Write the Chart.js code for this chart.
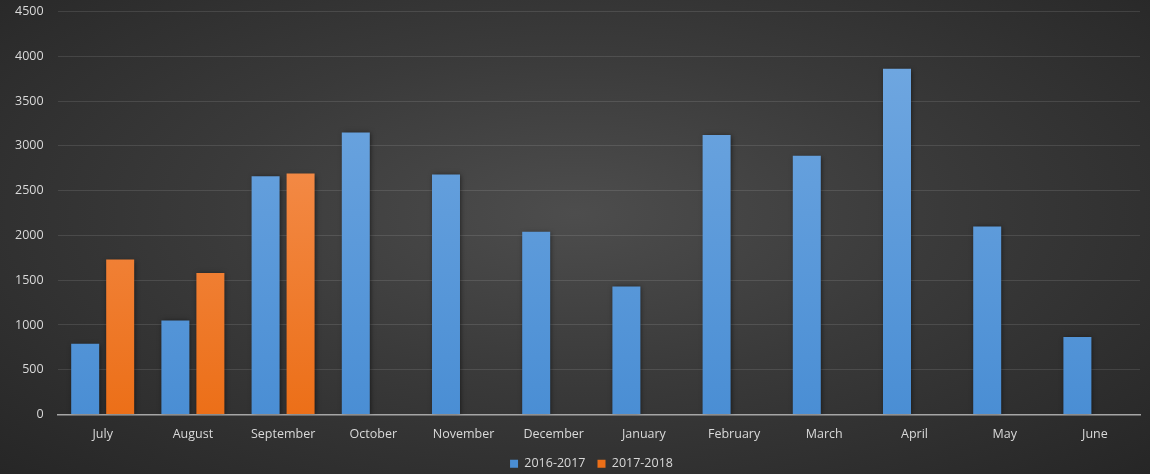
<!DOCTYPE html>
<html>
<head>
<meta charset="utf-8">
<script src="https://cdn.jsdelivr.net/npm/chart.js@4"></script>
<style>
  html, body { margin: 0; padding: 0; }
  body {
    width: 1150px; height: 474px; overflow: hidden;
    background: radial-gradient(ellipse at 50% 45%, #4d4d4d 0%, #3a3a3a 45%, #262626 100%);
  }
  #wrap { width: 1150px; height: 484px; margin-top: -10px; }
</style>
</head>
<body>
<div id="wrap"><canvas id="chart"></canvas></div>
<script>
const months = ['July', 'August', 'September', 'October', 'November', 'December',
  'January', 'February', 'March', 'April', 'May', 'June'];
const season1617 = [790, 1050, 2660, 3150, 2680, 2040, 1430, 3120, 2890, 3860, 2100, 865];
const season1718 = [1730, 1580, 2690, null, null, null, null, null, null, null, null, null];
const yTicks = [0, 500, 1000, 1500, 2000, 2500, 3000, 3500, 4000, 4500];

function barGradient(top, bottom) {
  return (ctx) => {
    const area = ctx.chart.chartArea;
    if (!area) return bottom;
    const g = ctx.chart.ctx.createLinearGradient(0, area.top, 0, area.bottom);
    g.addColorStop(0, top);
    g.addColorStop(1, bottom);
    return g;
  };
}

const shadowPlugin = {
  id: 'barShadow',
  beforeDatasetsDraw(chart) {
    const c = chart.ctx;
    c.save();
    c.shadowColor = 'rgba(0,0,0,0.55)';
    c.shadowBlur = 5;
    c.shadowOffsetX = 1;
    c.shadowOffsetY = 1;
  },
  afterDatasetsDraw(chart) {
    chart.ctx.restore();
  },
};

// legend sits a bit right of page centre in the original
const legendShift = {
  id: 'legendShift',
  afterLayout(chart) {
    if (!chart.legend) return;
    chart.legend.left += 21;
    chart.legend.right += 21;
  },
};

new Chart(document.getElementById('chart').getContext('2d'), {
  type: 'bar',
  data: {
    labels: months,
    datasets: [
      {
        label: '2016-2017',
        data: season1617,
        backgroundColor: barGradient('#74aae2', '#4a8ed4'),
        barPercentage: 0.8,
        categoryPercentage: 0.776,
      },
      {
        label: '2017-2018',
        data: season1718,
        backgroundColor: barGradient('#f79a62', '#ec6f18'),
        barPercentage: 0.8,
        categoryPercentage: 0.776,
      },
    ],
  },
  options: {
    responsive: true,
    maintainAspectRatio: false,
    animation: false,
    layout: { padding: { left: 1, right: 10, top: 0, bottom: -6 } },
    scales: {
      x: {
        grid: { display: false },
        border: { color: '#a6a6a6', width: 1.5 },
        ticks: { color: '#d9d9d9', font: { family: 'Open Sans', size: 12.5 }, padding: 4 },
      },
      y: {
        min: 0,
        max: 4500,
        afterBuildTicks: (axis) => { axis.ticks = yTicks.map((v) => ({ value: v })); },
        grid: { color: 'rgba(255,255,255,0.11)', drawTicks: false },
        border: { display: false },
        ticks: {
          color: '#d9d9d9',
          font: { family: 'Open Sans', size: 12.5 },
          padding: 14,
          callback: (val) => String(val),
        },
      },
    },
    plugins: {
      legend: {
        position: 'bottom',
        labels: {
          color: '#d9d9d9',
          font: { family: 'Open Sans', size: 12.5 },
          boxWidth: 8,
          boxHeight: 8,
          padding: 12,
        },
      },
      tooltip: { enabled: false },
    },
  },
  plugins: [shadowPlugin, legendShift],
});
</script>
</body>
</html>
